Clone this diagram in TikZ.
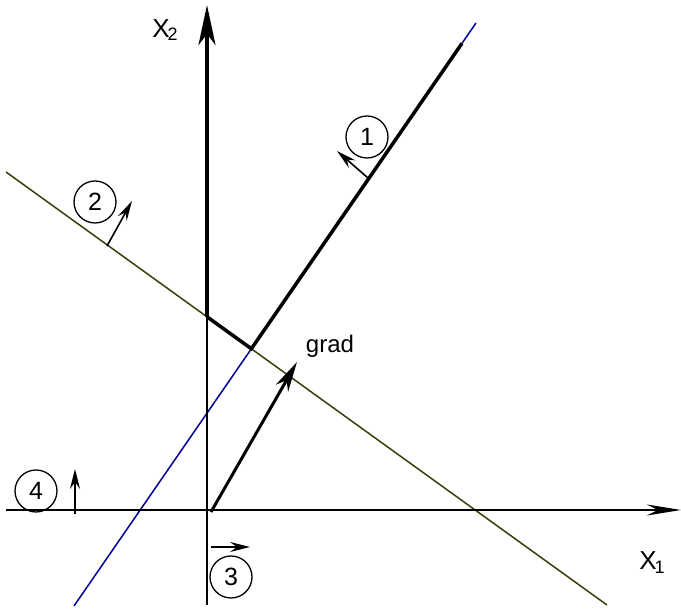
\documentclass[tikz,border=0pt]{standalone}
\usepackage{fontspec}
\setmainfont{Liberation Sans}
\usetikzlibrary{arrows.meta,calc}
\definecolor{lineblue}{RGB}{0,0,150}
\definecolor{lineolive}{RGB}{60,60,10}

\begin{document}
\begin{tikzpicture}[x=1pt,y=1pt,
    num/.style={draw,circle,line width=1.3pt,minimum size=42pt,inner sep=0pt,
        font=\fontsize{25}{25}\selectfont},
    normal/.style={line width=1.6pt,-{Stealth[length=20pt,width=10pt,inset=7pt]}},
    axislabel/.style={font=\fontsize{26}{26}\selectfont,inner sep=0pt},
    ]
    \useasboundingbox (-207,-100) rectangle (474,510);

    % constraint lines
    \coordinate (P1) at (-133,-96);
    \coordinate (P2) at (269,487);
    \coordinate (Q1) at (-201,338);
    \coordinate (Q2) at (400,-95);
    \draw[lineblue,line width=1.5pt] (P1) -- (P2);
    \draw[lineolive,line width=1.5pt] (Q1) -- (Q2);

    % points of the feasible region
    \coordinate (O) at (0,0);
    \coordinate (A) at (intersection of Q1--Q2 and 0,0--0,10);
    \coordinate (V) at (intersection of P1--P2 and Q1--Q2);
    \coordinate (B) at ($(P1)!0.965!(P2)$);

    % axes
    \draw[line width=1.8pt,-{Stealth[length=34pt,width=11pt,inset=11pt]}] (-201,0) -- (474,0);
    \draw[line width=1.5pt] (0,-95) -- (A);
    \draw[line width=4pt,-{Stealth[length=40pt,width=17pt,inset=11pt]}] (A) -- (0,505);
    \node[axislabel] (x1) at (445,-53) {X\kern-2pt\raisebox{-4pt}{\fontsize{18}{18}\selectfont 1}};
    \node[axislabel] (x2) at (-42,480) {X\kern-2pt\raisebox{-3pt}{\fontsize{18}{18}\selectfont 2}};

    % boundary of the region
    \draw[line width=3.5pt] (A) -- (V) -- (B);

    % normals
    \node[num] (n1) at (160,373) {1};
    \draw[normal] (161,332) -- (130,359);
    \node[num] (n2) at (-112,308) {2};
    \draw[normal] (-100,264) -- (-75,309);
    \node[num] (n3) at (24,-67) {3};
    \draw[normal] (4,-37) -- (43,-37);
    \node[num] (n4) at (-171,19) {4};
    \draw[normal] (-132,-4) -- (-132,41);

    % gradient
    \draw[line width=3pt,-{Stealth[length=30pt,width=14pt,inset=9pt]}] (4,-2) -- (90,148);
    \node[font=\fontsize{24}{24}\selectfont] (g) at (123,164) {grad};
\end{tikzpicture}
\end{document}
